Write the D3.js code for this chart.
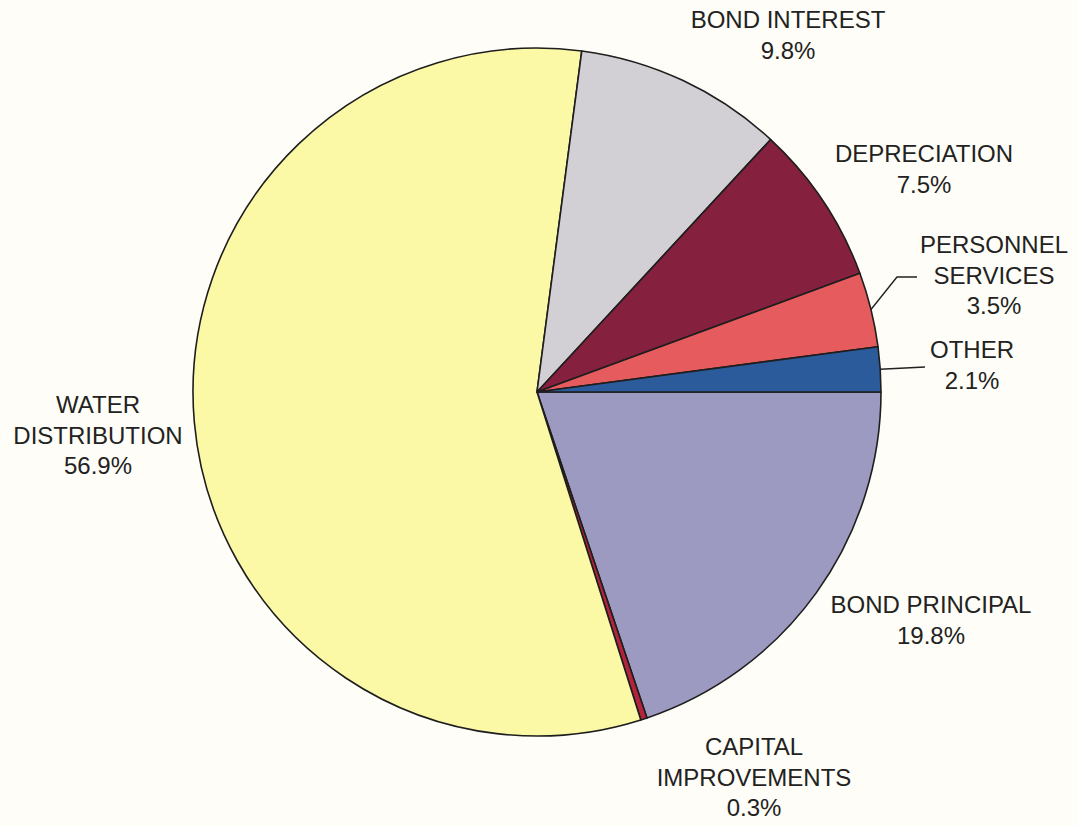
<!DOCTYPE html>
<html>
<head>
<meta charset="utf-8">
<script src="https://cdn.jsdelivr.net/npm/d3@7"></script>
<style>
  html, body { margin: 0; padding: 0; background: #fefdf7; }
  svg { display: block; }
  text { font-family: "Liberation Sans", Arial, sans-serif; fill: #222; }
</style>
</head>
<body>
<svg id="chart" width="1077" height="826"></svg>
<script>
// Expense categories, in drawing order clockwise from 3 o'clock
const categories = ["BOND PRINCIPAL", "CAPITAL IMPROVEMENTS", "WATER DISTRIBUTION", "BOND INTEREST", "DEPRECIATION", "PERSONNEL SERVICES", "OTHER"];
const shares = [19.8, 0.3, 56.9, 9.8, 7.5, 3.5, 2.1];
const labelLines = [
  ["BOND PRINCIPAL", "19.8%"],
  ["CAPITAL", "IMPROVEMENTS", "0.3%"],
  ["WATER", "DISTRIBUTION", "56.9%"],
  ["BOND INTEREST", "9.8%"],
  ["DEPRECIATION", "7.5%"],
  ["PERSONNEL", "SERVICES", "3.5%"],
  ["OTHER", "2.1%"]
];
const sliceColors = ["#9c9ac0", "#b3243c", "#fbf9a6", "#d2d0d4", "#86203f", "#e65b5d", "#2b5b9b"];

// Label placement (first baseline) and leader-line use
const labelPos = [
  { x: 931, y: 613, leader: false },
  { x: 754, y: 755, leader: false },
  { x: 98,  y: 413, leader: false },
  { x: 788, y: 28,  leader: false },
  { x: 924, y: 162, leader: false },
  { x: 994, y: 253, leader: true, elbow: [897, 277], end: [917, 277] },
  { x: 972, y: 358, leader: true, elbow: [925, 367], end: [925, 367] }
];

const cx = 537, cy = 392, radius = 344;
const svg = d3.select("#chart");
const g = svg.append("g").attr("transform", `translate(${cx},${cy})`);

const pie = d3.pie().sort(null).value(d => d)
  .startAngle(Math.PI / 2).endAngle(Math.PI / 2 + 2 * Math.PI);
const arcs = pie(shares);
const arc = d3.arc().innerRadius(0).outerRadius(radius);

g.selectAll("path.slice")
  .data(arcs)
  .join("path")
  .attr("class", "slice")
  .attr("d", arc)
  .attr("fill", (d, i) => sliceColors[i])
  .attr("stroke", "#1e1e1e")
  .attr("stroke-width", 1.6)
  .attr("stroke-linejoin", "round");

// Leader lines for the thin slices on the right
arcs.forEach((d, i) => {
  const lp = labelPos[i];
  if (!lp.leader) return;
  const mid = (d.startAngle + d.endAngle) / 2;
  const px = cx + radius * Math.sin(mid);
  const py = cy - radius * Math.cos(mid);
  svg.append("polyline")
    .attr("points", [[px, py], lp.elbow, lp.end].map(p => p.join(",")).join(" "))
    .attr("fill", "none")
    .attr("stroke", "#222")
    .attr("stroke-width", 1.4);
});

// Category labels with percentages
labelLines.forEach((lines, i) => {
  const lp = labelPos[i];
  const t = svg.append("text")
    .attr("text-anchor", "middle")
    .attr("font-size", 24);
  lines.forEach((ln, j) => {
    t.append("tspan")
      .attr("x", lp.x)
      .attr("y", lp.y + j * 30.5)
      .text(ln);
  });
});
</script>
</body>
</html>
